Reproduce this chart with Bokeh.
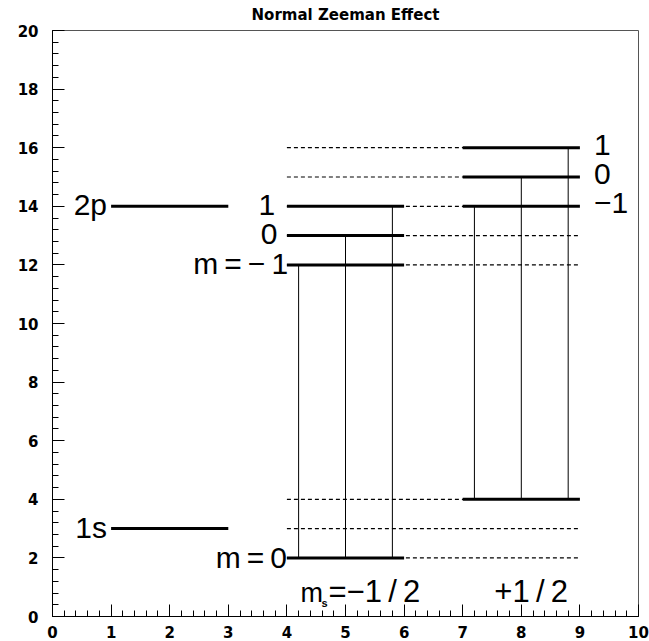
from bokeh.plotting import figure
from bokeh.models import Range1d, SingleIntervalTicker, Title
from bokeh.embed import file_html
from bokeh.resources import INLINE
from bokeh.core.properties import value

# ---------------- data ----------------
title_text = "Normal Zeeman Effect"

term_names = ["2p", "1s"]
term_energy = [14, 3]
term_x0 = [1, 1]
term_x1 = [3, 3]

# m_s = -1/2 group
minus_x0 = 4
minus_x1 = 6
minus_upper_energy = [12, 13, 14]          # m = -1, 0, 1
minus_upper_labels = ["m\u2009=\u2009\u2212\u20091", "0", "1"]
minus_lower_energy = 2                     # m = 0
minus_lower_label = "m\u2009=\u20090"
minus_trans_x = [4.2, 5.0, 5.8]

# m_s = +1/2 group
plus_x0 = 7
plus_x1 = 9
plus_upper_energy = [14, 15, 16]           # m = -1, 0, 1
plus_upper_labels = ["\u22121", "0", "1"]
plus_lower_energy = 4
plus_trans_x = [7.2, 8.0, 8.8]

# dashed reference levels
ref_levels = [2, 3, 4, 12, 13, 14, 15, 16]
ref_x0 = 4
ref_x1 = 9

ms_label_m = "m"
ms_label_sub = "s"
ms_label_values = ["=\u22121\u2009/\u20092", "+1\u2009/\u20092"]

# ---------------- figure ----------------
p = figure(width=649, height=641, x_range=Range1d(0, 10), y_range=Range1d(0, 20),
           output_backend="svg", toolbar_location=None,
           min_border_left=52, min_border_right=11, min_border_top=29, min_border_bottom=25)
p.xgrid.visible = False
p.ygrid.visible = False
p.background_fill_color = "white"
p.border_fill_color = "white"
p.outline_line_color = "#555555"
p.outline_line_width = 1

p.add_layout(Title(text=title_text, align="center", vertical_align="top",
                   text_font="DejaVu Sans", text_font_style="bold", text_font_size="15px",
                   text_color="black", standoff=10), "above")

p.xaxis.ticker = SingleIntervalTicker(interval=1, num_minor_ticks=5)
p.yaxis.ticker = SingleIntervalTicker(interval=2, num_minor_ticks=5)
for ax in (p.xaxis, p.yaxis):
    ax.major_tick_in = 12
    ax.major_tick_out = 0
    ax.minor_tick_in = 6
    ax.minor_tick_out = 0
    ax.axis_line_color = "black"
    ax.major_tick_line_color = "black"
    ax.minor_tick_line_color = "black"
    ax.major_label_text_font = "DejaVu Sans"
    ax.major_label_text_font_style = "bold"
    ax.major_label_text_font_size = "15px"
    ax.major_label_text_color = "black"
p.xaxis.major_label_standoff = 9
p.yaxis.major_label_standoff = 14

# dashed reference lines
p.segment(x0=[ref_x0] * len(ref_levels), x1=[ref_x1] * len(ref_levels),
          y0=ref_levels, y1=ref_levels, line_color="black", line_width=1.2, line_dash="4 3")

# transitions
p.segment(x0=minus_trans_x, x1=minus_trans_x, y0=[minus_lower_energy] * 3, y1=minus_upper_energy,
          line_color="black", line_width=1)
p.segment(x0=plus_trans_x, x1=plus_trans_x, y0=[plus_lower_energy] * 3, y1=plus_upper_energy,
          line_color="black", line_width=1)

# thick levels
lx0 = term_x0 + [minus_x0] * 4 + [plus_x0] * 4
lx1 = term_x1 + [minus_x1] * 4 + [plus_x1] * 4
ly = term_energy + minus_upper_energy + [minus_lower_energy] + plus_upper_energy + [plus_lower_energy]
p.segment(x0=lx0, x1=lx1, y0=ly, y1=ly, line_color="black", line_width=3)

FONT = value("Liberation Sans")
UP = 0.05   # text centres sit a hair above their level

p.text(x=[0.93, 0.93], y=[e + UP for e in term_energy], text=term_names,
       text_align="right", text_baseline="middle", text_font=FONT,
       text_font_size="30px", text_color="black")

p.text(x=[4.02, 3.84, 3.80, 4.0],
       y=[e + UP for e in minus_upper_energy] + [minus_lower_energy],
       text=minus_upper_labels + [minus_lower_label],
       text_align="right", text_baseline="middle", text_font=FONT,
       text_font_size="30px", text_color="black")

p.text(x=[9.24, 9.24, 9.24], y=[e + 2 * UP for e in plus_upper_energy], text=plus_upper_labels,
       text_align="left", text_baseline="middle", text_font=FONT,
       text_font_size="30px", text_color="black")

# bottom m_s labels
p.text(x=[4.23], y=[0.80], text=[ms_label_m],
       text_align="left", text_baseline="middle", text_font=FONT,
       text_font_size="27px", text_color="black")
p.text(x=[4.59], y=[0.45], text=[ms_label_sub],
       text_align="left", text_baseline="middle", text_font=FONT,
       text_font_style="bold", text_font_size="11px", text_color="black")
p.text(x=[4.71, 7.54], y=[0.85, 0.85], text=ms_label_values,
       text_align="left", text_baseline="middle", text_font=FONT,
       text_font_size="31px", text_color="black")

open("out.html", "w").write(file_html(p, INLINE))
